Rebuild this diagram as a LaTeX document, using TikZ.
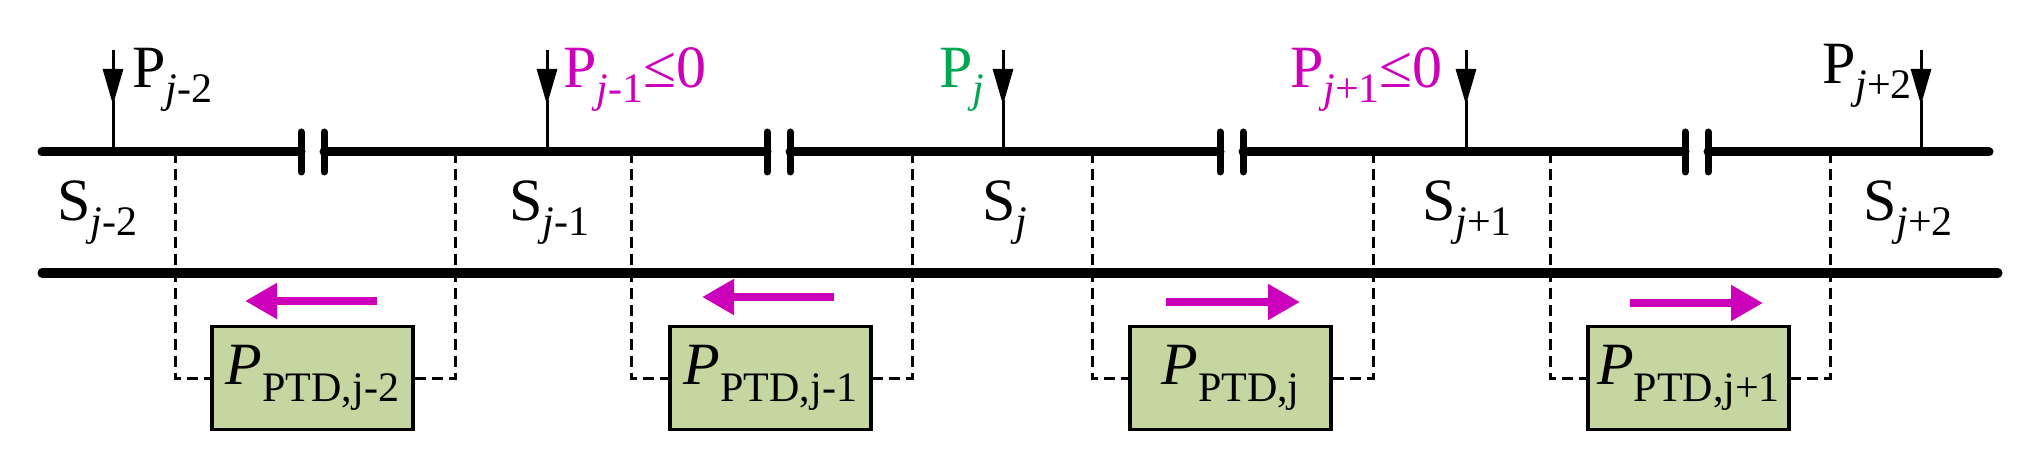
\documentclass[tikz,border=0pt]{standalone}
\usepackage{fontspec}
\setmainfont{Liberation Serif}
\usetikzlibrary{arrows.meta}
\definecolor{mag}{HTML}{CC00BB}
\definecolor{grn}{HTML}{00A651}
\definecolor{boxfill}{HTML}{C5D6A0}
\newcommand{\bigf}{\fontsize{60}{64}\selectfont}
\newcommand{\subf}{\fontsize{42}{46}\selectfont}
\newcommand{\Lab}[2]{#1\raisebox{-0.25em}{\subf #2}}
\newcommand{\Ptd}[1]{{\itshape P}\raisebox{-0.28em}{\subf PTD,#1}}
\begin{document}
\begin{tikzpicture}[x=1pt,y=-1pt,
  bus/.style={line width=9pt,line cap=round},
  feed/.style={line width=3pt,-{Triangle[length=36pt,width=20pt]}},
  capplate/.style={line width=7pt,line cap=round},
  conn/.style={line width=3pt,dash pattern=on 11pt off 6pt},
  flow/.style={line width=8pt,mag,-{Triangle[length=32pt,width=34pt]}},
  ptd/.style={draw,line width=3.5pt,fill=boxfill,minimum width=201pt,minimum height=103pt,inner sep=0pt,font=\bigf},
  lbl/.style={anchor=west,inner sep=0pt,font=\bigf}]
\useasboundingbox (0,0) rectangle (2020,470);
% buses
\coordinate (tl) at (42,152); \coordinate (tr) at (1989,152);
\coordinate (bl) at (42,273); \coordinate (br) at (1998,273);
\draw[bus] (tl) -- (301,152);
\draw[bus] (324,152) -- (767,152);
\draw[bus] (790,152) -- (1220,152);
\draw[bus] (1243,152) -- (1685,152);
\draw[bus] (1708,152) -- (tr);
\draw[bus] (bl) -- (br);
% capacitors
\foreach \x in {301,324,767,790,1220,1243,1685,1708}
  \draw[capplate] (\x,132) -- (\x,172);
% feeders
\foreach \n/\x in {a/113,b/547,c/1003,d/1466,e/1921}{
  \coordinate (f\n) at (\x,50); \coordinate (g\n) at (\x,152);
  \draw[feed] (f\n) -- (\x,105); \draw[line width=3pt] (\x,100) -- (g\n);}
% labels
\node[lbl] (p1) at (132,80) {\Lab{P}{\itshape j\upshape -2}};
\node[lbl,text=mag] (p2) at (563,80) {\Lab{P}{\itshape j\upshape -1}≤0};
\node[lbl,text=grn] (p3) at (939,80) {\Lab{P}{\itshape j}};
\node[lbl,text=mag] (p4) at (1290,80) {\Lab{P}{\itshape j\upshape +1}≤0};
\node[lbl] (p5) at (1822,76) {\Lab{P}{\itshape j\upshape +2}};
\node[lbl] (s1) at (57,213) {\Lab{S}{\itshape j\upshape -2}};
\node[lbl] (s2) at (509,213) {\Lab{S}{\itshape j\upshape -1}};
\node[lbl] (s3) at (982,213) {\Lab{S}{\itshape j}};
\node[lbl] (s4) at (1422,213) {\Lab{S}{\itshape j\upshape +1}};
\node[lbl] (s5) at (1863,213) {\Lab{S}{\itshape j\upshape +2}};
% PTD boxes and dashed connections
\foreach \n/\cx/\l/\r/\t in {1/312.5/175/455/j-2, 2/770.5/631/912/j-1, 3/1230.5/1092/1373/j, 4/1688.5/1550/1830/j+1}{
  \node[ptd] (b\n) at (\cx,378) {\Ptd{\t}};
  \coordinate (l\n) at (\l,152); \coordinate (r\n) at (\r,152);
  \draw[conn] (l\n) |- (b\n.west);
  \draw[conn] (r\n) |- (b\n.east);}
% power flow arrows
\coordinate (a1s) at (377,301); \coordinate (a1e) at (245,301);
\coordinate (a2s) at (834,297); \coordinate (a2e) at (702,297);
\coordinate (a3s) at (1166,302); \coordinate (a3e) at (1300,302);
\coordinate (a4s) at (1630,303); \coordinate (a4e) at (1763,303);
\foreach \i in {1,2,3,4} \draw[flow] (a\i s) -- (a\i e);
\end{tikzpicture}
\end{document}
